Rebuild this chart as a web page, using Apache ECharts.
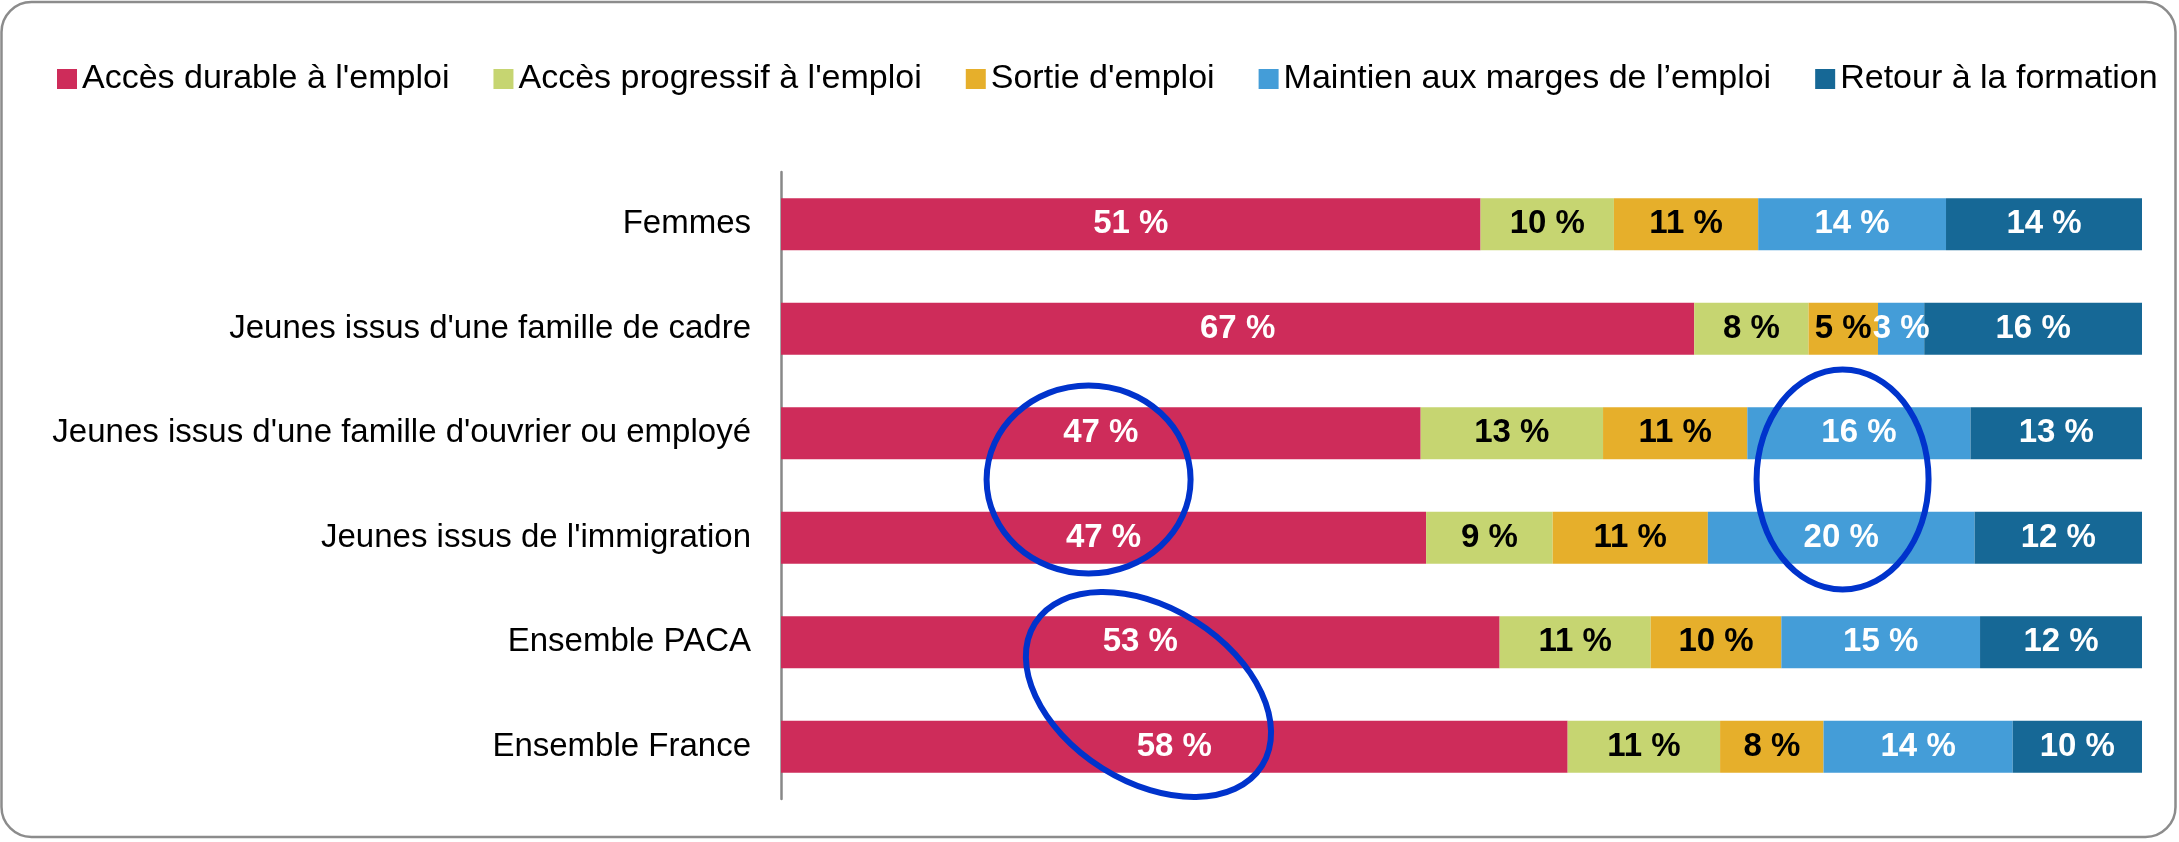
<!DOCTYPE html>
<html>
<head>
<meta charset="utf-8">
<script src="https://cdn.jsdelivr.net/npm/echarts@6/dist/echarts.min.js"></script>
<style>
  html, body { margin: 0; padding: 0; background: #fff; }
  #parcours-chart { width: 2179px; height: 842px; }
</style>
</head>
<body>
<div id="parcours-chart"></div>
<script>
// categories, top to bottom
var categories = [
    'Femmes',
    "Jeunes issus d'une famille de cadre",
    "Jeunes issus d'une famille d'ouvrier ou employé",
    "Jeunes issus de l'immigration",
    'Ensemble PACA',
    'Ensemble France'
];

var seriesNames = [
    "Accès durable à l'emploi",
    "Accès progressif à l'emploi",
    "Sortie d'emploi",
    "Maintien aux marges de l’emploi",
    "Retour à la formation"
];

// shares in % (labels show the rounded value)
var durable    = [51.4, 67.1, 47.0, 47.4, 52.8, 57.8];
var progressif = [9.8, 8.4, 13.4, 9.3, 11.1, 11.2];
var sortie     = [10.6, 5.1, 10.6, 11.4, 9.6, 7.6];
var marges     = [13.8, 3.4, 16.4, 19.6, 14.6, 13.9];
var formation  = [14.4, 16.0, 12.6, 12.3, 11.9, 9.5];

var colors = ['#CE2C5A', '#C6D571', '#E6AF2B', '#449DD8', '#166896'];
var labelColors = ['#fff', '#000', '#000', '#fff', '#fff'];

function makeSeries(i, data) {
    return {
        name: seriesNames[i],
        type: 'bar',
        stack: 'total',
        barWidth: 52,
        data: data,
        itemStyle: { color: colors[i] },
        label: {
            show: true,
            position: 'inside',
            color: labelColors[i],
            fontFamily: 'Liberation Sans',
            fontWeight: 'bold',
            fontSize: 33,
            formatter: function (p) {
                return Math.round(p.value) + ' %';
            }
        }
    };
}

function drawParcours() {
    var myChart = echarts.init(document.getElementById('parcours-chart'));

    // specify chart configuration item and data
    var option = {
        animation: false,
        textStyle: { fontFamily: 'Liberation Sans' },
        legend: {
            data: seriesNames,
            left: 52,
            top: 57,
            icon: 'rect',
            itemWidth: 20,
            itemHeight: 20,
            itemGap: 44,
            textStyle: { fontSize: 34, color: '#000', fontFamily: 'Liberation Sans' }
        },
        grid: { left: 781, right: 37, top: 172, bottom: 43 },
        xAxis: {
            type: 'value',
            min: 0,
            max: 100,
            show: false
        },
        yAxis: {
            type: 'category',
            inverse: true,
            data: categories,
            axisLine: { show: true, lineStyle: { color: '#888', width: 2.5 } },
            axisTick: { show: false },
            axisLabel: {
                margin: 30,
                fontSize: 33,
                color: '#000',
                fontFamily: 'Liberation Sans'
            }
        },
        series: [
            makeSeries(0, durable),
            makeSeries(1, progressif),
            makeSeries(2, sortie),
            makeSeries(3, marges),
            makeSeries(4, formation)
        ]
    };

    myChart.setOption(option);

    // hand-drawn style circles, anchored on the data grid
    function pt(x, cat) {
        return myChart.convertToPixel({ gridIndex: 0 }, [x, cat]);
    }
    var midA = (pt(0, 2)[1] + pt(0, 3)[1]) / 2 - 6;
    var midB = (pt(0, 4)[1] + pt(0, 5)[1]) / 2;

    var ring = { fill: 'none', stroke: '#0033CC', lineWidth: 6 };

    myChart.setOption({
        graphic: [
            {
                type: 'rect',
                shape: { x: 1.5, y: 2, width: 2174, height: 835, r: 30 },
                style: { fill: 'none', stroke: '#8c8c8c', lineWidth: 2.5 },
                z: 0
            },
            {
                type: 'ellipse',
                x: pt(22.6, 2)[0], y: midA,
                shape: { cx: 0, cy: 0, rx: 102, ry: 94 },
                style: ring, z: 100
            },
            {
                type: 'ellipse',
                x: pt(78.0, 2)[0], y: midA,
                shape: { cx: 0, cy: 0, rx: 86, ry: 110 },
                style: ring, z: 100
            },
            {
                type: 'ellipse',
                x: pt(27.0, 4)[0], y: midB,
                rotation: -0.56,
                shape: { cx: 0, cy: 0, rx: 134, ry: 87 },
                style: ring, z: 100
            }
        ]
    });
}

drawParcours();
</script>
</body>
</html>
